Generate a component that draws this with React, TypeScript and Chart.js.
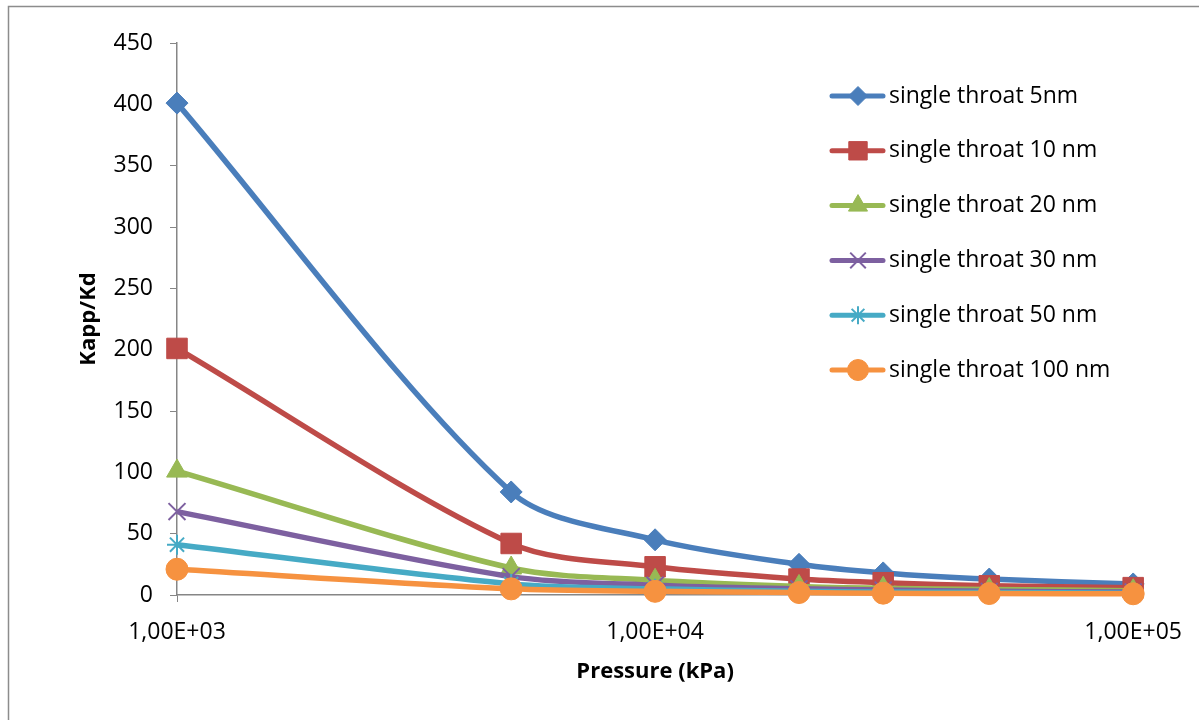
import React, { useEffect, useRef } from "react";
import { Chart, registerables } from "chart.js";
import { drawPoint } from "chart.js/helpers";

Chart.register(...registerables);

// ---- data ----
const pressures = [1000, 5000, 10000, 20000, 30000, 50000, 100000];
const seriesNames = [
  "single throat 5nm",
  "single throat 10 nm",
  "single throat 20 nm",
  "single throat 30 nm",
  "single throat 50 nm",
  "single throat 100 nm",
];
const throat5 = [401, 84, 45, 25, 18, 13, 9];
const throat10 = [201, 42, 23, 13, 10, 7.5, 6];
const throat20 = [101, 22, 12, 7, 5.5, 4.5, 3.5];
const throat30 = [68, 15, 8, 5, 4, 3, 2.5];
const throat50 = [41, 9, 5, 3, 2.5, 2, 1.5];
const throat100 = [21, 5, 3, 2, 1.5, 1.2, 1];
const xTickValues = [1000, 10000, 100000];
const xTickLabels = ["1,00E+03", "1,00E+04", "1,00E+05"];
const yMin = 0;
const yMax = 450;
const yStep = 50;

// ---- styles ----
const seriesValues = [throat5, throat10, throat20, throat30, throat50, throat100];
const colors = ["#4A7EBB", "#BE4B48", "#98B954", "#7D60A0", "#46AAC5", "#F69240"];
const pointStyles = ["rectRot", "rect", "triangle", "crossRot", "star", "circle"];
const pointRadii = [11, 14.5, 12, 12, 10, 11];
const legendRadii = [9.5, 13, 11, 11, 9, 10.5];
const FONT = "'Open Sans', 'Noto Sans', sans-serif";

const frameAndLegend = {
  id: "frameAndLegend",
  beforeDraw(chart: any) {
    const ctx = chart.ctx;
    ctx.save();
    ctx.fillStyle = "#ffffff";
    ctx.fillRect(0, 0, chart.width, chart.height);
    ctx.strokeStyle = "#8C8C8C";
    ctx.lineWidth = 1.5;
    ctx.strokeRect(8.5, 6.5, chart.width + 100, chart.height + 100);
    ctx.restore();
  },
  afterDraw(chart: any) {
    const ctx = chart.ctx;
    ctx.save();
    chart.data.datasets.forEach((ds: any, i: number) => {
      const y = 96 + i * 54.8;
      ctx.strokeStyle = ds.borderColor;
      ctx.lineWidth = 5;
      ctx.lineCap = "round";
      ctx.beginPath();
      ctx.moveTo(832, y);
      ctx.lineTo(883, y);
      ctx.stroke();
      ctx.fillStyle = ds.pointBackgroundColor;
      ctx.strokeStyle = ds.pointBorderColor;
      ctx.lineWidth = ds.pointBorderWidth;
      ctx.lineCap = "butt";
      drawPoint(
        ctx,
        { pointStyle: ds.pointStyle, radius: legendRadii[i], borderWidth: ds.pointBorderWidth, rotation: 0 },
        858,
        y
      );
      ctx.fillStyle = "#000000";
      ctx.font = `23px ${FONT}`;
      ctx.textBaseline = "middle";
      ctx.textAlign = "left";
      ctx.fillText(ds.label, 889, y);
    });
    ctx.restore();
  },
};

export default function App() {
  const canvasRef = useRef<HTMLCanvasElement | null>(null);

  useEffect(() => {
    if (!canvasRef.current) return;
    const datasets = seriesValues.map((vals, i) => {
      const isCross = pointStyles[i] === "crossRot" || pointStyles[i] === "star";
      return {
        label: seriesNames[i],
        data: pressures.map((p, j) => ({ x: p, y: vals[j] })),
        borderColor: colors[i],
        backgroundColor: colors[i],
        borderWidth: 5.5,
        tension: 0.3,
        pointStyle: pointStyles[i],
        pointRadius: pointRadii[i],
        pointBackgroundColor: colors[i],
        pointBorderColor: colors[i],
        pointBorderWidth: isCross ? 2 : 1,
        order: seriesValues.length - i,
        clip: false as any,
      };
    });

    const chart = new Chart(canvasRef.current, {
      type: "line",
      data: { datasets },
      plugins: [frameAndLegend],
      options: {
        animation: false,
        responsive: false,
        maintainAspectRatio: false,
        layout: { padding: { left: 0, top: 43, right: 64, bottom: 0 } },
        plugins: {
          legend: { display: false },
          tooltip: { enabled: false },
        },
        scales: {
          x: {
            type: "logarithmic",
            min: 1000,
            max: 100000,
            afterBuildTicks: (scale: any) => {
              scale.ticks = xTickValues.map((v) => ({ value: v }));
            },
            afterFit: (scale: any) => {
              scale.height = 125;
            },
            ticks: {
              autoSkip: false,
              maxRotation: 0,
              padding: 17,
              color: "#000000",
              font: { family: FONT, size: 23 },
              callback: (_v: any, i: number) => xTickLabels[i],
            },
            grid: {
              display: true,
              drawOnChartArea: false,
              drawTicks: true,
              tickLength: 7,
              color: "#868686",
            },
            border: { display: true, color: "#868686", width: 1.5 },
            title: {
              display: true,
              text: "Pressure (kPa)",
              color: "#000000",
              font: { family: FONT, size: 22, weight: "bold" },
              padding: { top: 0, bottom: 35 },
            },
          },
          y: {
            type: "linear",
            min: yMin,
            max: yMax,
            afterFit: (scale: any) => {
              scale.width = 177;
            },
            ticks: {
              stepSize: yStep,
              padding: 17,
              color: "#000000",
              font: { family: FONT, size: 23 },
            },
            grid: {
              display: true,
              drawOnChartArea: false,
              drawTicks: true,
              tickLength: 7,
              color: "#868686",
            },
            border: { display: true, color: "#868686", width: 1.5 },
            title: {
              display: true,
              text: "Kapp/Kd",
              color: "#000000",
              font: { family: FONT, size: 22, weight: "bold" },
              padding: { top: 76, bottom: 0 },
            },
          },
        },
      },
    } as any);

    return () => chart.destroy();
  }, []);

  return (
    <div style={{ position: "fixed", left: 0, top: 0, width: 1199, height: 720, background: "#fff" }}>
      <canvas ref={canvasRef} width={1199} height={720} style={{ display: "block", width: 1199, height: 720 }} />
    </div>
  );
}
